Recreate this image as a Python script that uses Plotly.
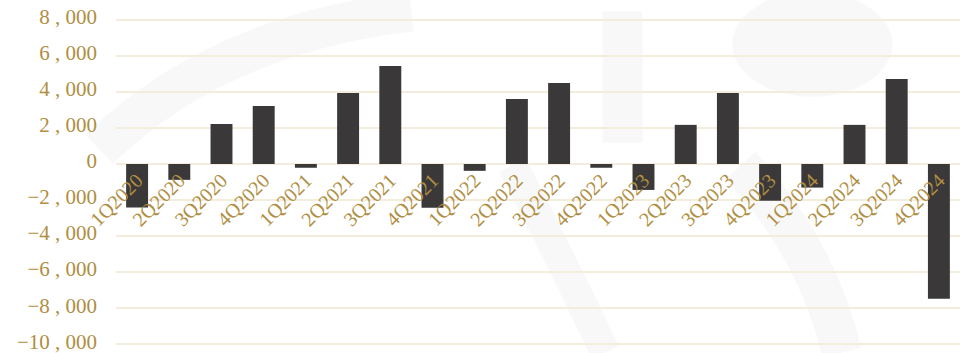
import plotly.graph_objects as go

quarters = ["1Q2020", "2Q2020", "3Q2020", "4Q2020", "1Q2021", "2Q2021", "3Q2021", "4Q2021",
            "1Q2022", "2Q2022", "3Q2022", "4Q2022", "1Q2023", "2Q2023", "3Q2023", "4Q2023",
            "1Q2024", "2Q2024", "3Q2024", "4Q2024"]
values = [-2420, -880, 2220, 3220, -210, 3940, 5440, -2430,
          -380, 3610, 4500, -210, -1440, 2170, 3940, -2040,
          -1310, 2170, 4720, -7480]
tick_vals = [8000, 6000, 4000, 2000, 0, -2000, -4000, -6000, -8000, -10000]
tick_labels = ["8 , 000", "6 , 000", "4 , 000", "2 , 000", "0", "\u22122 , 000", "\u22124 , 000",
               "\u22126 , 000", "\u22128 , 000", "\u221210 , 000"]

GOLD = "#B08E42"
GRID = "#F3EDDD"
y_min, y_max = -10100, 8100

fig = go.Figure()
fig.add_trace(go.Bar(x=quarters, y=values, marker=dict(color="#3A3838", line=dict(width=0)),
                     width=0.52))

fig.update_layout(
    width=968, height=353,
    margin=dict(l=116, r=8, t=18, b=7, autoexpand=False),
    paper_bgcolor="white", plot_bgcolor="rgba(0,0,0,0)",
    showlegend=False,
    font=dict(family="Liberation Serif, Times New Roman, serif", color=GOLD),
    xaxis=dict(
        anchor="free", position=(0 - y_min) / (y_max - y_min),
        tickangle=-45, tickfont=dict(size=20, color=GOLD), automargin=False,
        showgrid=False, showline=False, ticks="", zeroline=False,
    ),
    yaxis=dict(
        range=[y_min, y_max], tickvals=tick_vals, ticktext=tick_labels,
        tickfont=dict(size=21, color=GOLD), showgrid=True, gridcolor=GRID, gridwidth=2,
        zeroline=True, zerolinecolor=GRID, zerolinewidth=2, ticks="", showline=False,
        ticklabelstandoff=18, ticklabeloverflow="allow", automargin=False,
        ticklabelshift=-3,
    ),
)

# faint watermark swooshes in the background
swoosh = "rgba(190,190,185,0.10)"
shapes = [
    dict(type="path", path="M -0.02 0.6 Q 0.12 0.95 0.35 1.02",
         line=dict(color=swoosh, width=40)),
    dict(type="path", path="M 0.6 1.02 L 0.6 0.62",
         line=dict(color=swoosh, width=40)),
    dict(type="path", path="M 0.47 0.55 Q 0.53 0.25 0.58 -0.02",
         line=dict(color=swoosh, width=30)),
    dict(type="path", path="M 0.74 0.55 Q 0.83 0.3 0.86 -0.02",
         line=dict(color=swoosh, width=40)),
    dict(type="circle", x0=0.73, x1=0.92, y0=0.76, y1=1.08,
         fillcolor=swoosh, line=dict(width=0)),
]
for s in shapes:
    s.update(xref="paper", yref="paper", layer="below")
fig.update_layout(shapes=shapes)

fig.write_html("out.html")
